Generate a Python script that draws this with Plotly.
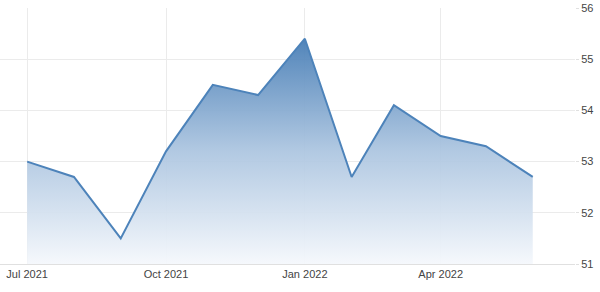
import plotly.graph_objects as go

months = ["2021-07-01", "2021-08-01", "2021-09-01", "2021-10-01", "2021-11-01", "2021-12-01",
          "2022-01-01", "2022-02-01", "2022-03-01", "2022-04-01", "2022-05-01", "2022-06-01"]
values = [53.0, 52.7, 51.5, 53.2, 54.5, 54.3, 55.4, 52.7, 54.1, 53.5, 53.3, 52.7]
x_tick_vals = ["2021-07-01", "2021-10-01", "2022-01-01", "2022-04-01"]
x_tick_text = ["Jul 2021", "Oct 2021", "Jan 2022", "Apr 2022"]
y_ticks = [51, 52, 53, 54, 55, 56]

fig = go.Figure()
fig.add_trace(go.Scatter(
    x=months, y=values, mode="lines",
    line=dict(color="#4d83ba", width=2),
    fill="tozeroy",
    fillgradient=dict(
        type="vertical",
        start=51, stop=55.4,
        colorscale=[[0, "rgba(245,248,252,0.95)"], [0.5, "rgba(172,197,224,0.93)"],
                    [1, "rgba(72,126,182,0.95)"]],
    ),
    hoverinfo="x+y",
    showlegend=False,
))

font = dict(family="Liberation Sans, Arial, sans-serif", size=11, color="#444444")
fig.update_layout(
    width=600, height=292,
    margin=dict(l=0, r=25, t=8, b=28),
    paper_bgcolor="white", plot_bgcolor="white",
    font=font,
    xaxis=dict(
        type="date",
        range=["2021-06-13", "2022-06-29"],
        tickvals=x_tick_vals, ticktext=x_tick_text,
        showgrid=True, gridcolor="#ebebeb", gridwidth=1,
        showline=True, linecolor="#e0e0e0", linewidth=1,
        ticks="", zeroline=False, fixedrange=True,
    ),
    yaxis=dict(
        side="right",
        range=[51, 56],
        tickvals=y_ticks,
        showgrid=True, gridcolor="#ebebeb", gridwidth=1,
        ticks="outside", ticklen=3, tickcolor="#e0e0e0",
        zeroline=False, showline=False, fixedrange=True,
    ),
)

fig.write_html("out.html")
